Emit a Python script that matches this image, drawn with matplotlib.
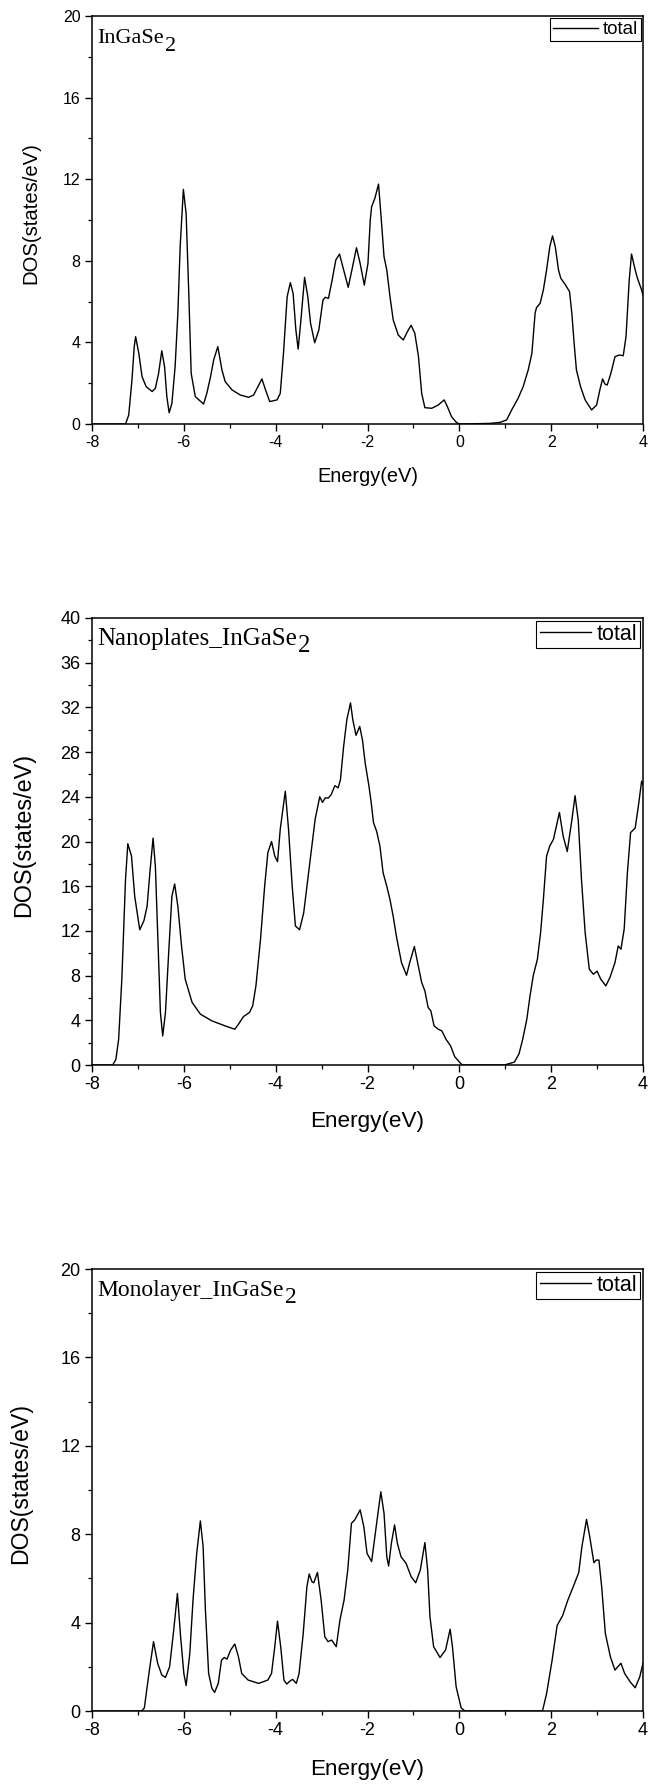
import matplotlib
matplotlib.use("Agg")
import matplotlib.pyplot as plt
from matplotlib.ticker import MultipleLocator

plt.rcParams["axes.unicode_minus"] = False

# ---------------- data ----------------
titles = ["InGaSe", "Nanoplates_InGaSe", "Monolayer_InGaSe"]
title_sub = "2"
legend_label = "total"
xlabel = "Energy(eV)"
ylabel = "DOS(states/eV)"
ylims = [20, 40, 20]

e1 = [-8.0, -7.27, -7.20, -7.13, -7.08, -7.05, -6.98, -6.91, -6.82, -6.69, -6.62, -6.55,
      -6.48, -6.42, -6.37, -6.32, -6.26, -6.19, -6.13, -6.08, -6.01, -5.95, -5.89, -5.84,
      -5.75, -5.57, -5.50, -5.42, -5.35, -5.26, -5.17, -5.10, -4.95, -4.77, -4.59, -4.48,
      -4.37, -4.30, -4.22, -4.13, -3.97, -3.90, -3.83, -3.75, -3.68, -3.62, -3.56, -3.51,
      -3.45, -3.37, -3.30, -3.24, -3.15, -3.06, -2.97, -2.92, -2.85, -2.77, -2.69, -2.61,
      -2.52, -2.42, -2.34, -2.24, -2.16, -2.07, -1.99, -1.94, -1.91, -1.84, -1.76, -1.71,
      -1.64, -1.58, -1.51, -1.44, -1.33, -1.22, -1.13, -1.05, -0.97, -0.89, -0.82, -0.75,
      -0.60, -0.46, -0.33, -0.26, -0.17, -0.06, 0.01, 0.67, 0.89, 1.03, 1.14, 1.28, 1.39,
      1.50, 1.58, 1.65, 1.68, 1.76, 1.83, 1.90, 1.97, 2.03, 2.09, 2.16, 2.21, 2.30, 2.40,
      2.45, 2.50, 2.55, 2.64, 2.74, 2.88, 2.99, 3.06, 3.12, 3.17, 3.22, 3.30, 3.39, 3.48,
      3.57, 3.63, 3.70, 3.75, 3.83, 3.88, 3.97, 4.0]
d1 = [0.0, 0.0, 0.44, 2.16, 3.79, 4.28, 3.46, 2.32, 1.83, 1.59, 1.75, 2.48,
      3.59, 2.81, 1.34, 0.55, 1.01, 2.81, 5.43, 8.69, 11.5, 10.3, 6.24, 2.48,
      1.34, 0.98, 1.5, 2.3, 3.14, 3.79, 2.65, 2.08, 1.67, 1.42, 1.31, 1.42,
      1.91, 2.21, 1.67, 1.10, 1.18, 1.5, 3.46, 6.24, 6.93, 6.4, 4.61, 3.67,
      5.1, 7.19, 6.24, 4.94, 3.98, 4.61, 6.08, 6.21, 6.16, 7.06, 8.04, 8.33,
      7.55, 6.7, 7.55, 8.64, 7.87, 6.81, 7.87, 10.0, 10.65, 11.06, 11.76, 10.33,
      8.2, 7.55, 6.24, 5.1, 4.36, 4.12, 4.53, 4.84, 4.45, 3.31, 1.5, 0.80,
      0.77, 0.93, 1.18, 0.85, 0.36, 0.07, 0.0, 0.03, 0.08, 0.2, 0.69, 1.26, 1.83,
      2.65, 3.46, 5.43, 5.7, 5.92, 6.57, 7.55, 8.69, 9.22, 8.69, 7.55, 7.14, 6.86, 6.49,
      5.43, 3.96, 2.65, 1.83, 1.18, 0.69, 0.93, 1.67, 2.21, 1.96, 1.91, 2.48, 3.3, 3.38,
      3.35, 4.28, 7.06, 8.33, 7.55, 7.14, 6.57, 6.3]

e2 = [-8.0, -7.55, -7.48, -7.42, -7.35, -7.27, -7.22, -7.14, -7.07, -6.96, -6.87, -6.80,
      -6.74, -6.67, -6.62, -6.56, -6.51, -6.46, -6.40, -6.33, -6.26, -6.20, -6.13, -6.05,
      -5.97, -5.82, -5.64, -5.39, -5.10, -4.89, -4.81, -4.70, -4.57, -4.50, -4.43, -4.33,
      -4.24, -4.17, -4.09, -4.02, -3.96, -3.90, -3.79, -3.72, -3.64, -3.57, -3.48, -3.39,
      -3.30, -3.21, -3.14, -3.04, -2.98, -2.92, -2.85, -2.79, -2.71, -2.64, -2.59, -2.52,
      -2.45, -2.37, -2.32, -2.25, -2.17, -2.11, -2.05, -1.97, -1.92, -1.87, -1.80, -1.73,
      -1.66, -1.58, -1.51, -1.44, -1.37, -1.26, -1.15, -1.08, -0.98, -0.91, -0.82, -0.75,
      -0.68, -0.62, -0.55, -0.46, -0.38, -0.29, -0.19, -0.10, 0.06, 0.98, 1.20, 1.30,
      1.38, 1.47, 1.54, 1.61, 1.70, 1.77, 1.83, 1.90, 1.97, 2.05, 2.18, 2.26, 2.35, 2.45,
      2.52, 2.59, 2.66, 2.74, 2.83, 2.92, 3.00, 3.08, 3.19, 3.28, 3.39, 3.46, 3.52, 3.59,
      3.66, 3.73, 3.83, 3.90, 3.97, 4.0]
d2 = [0.0, 0.0, 0.5, 2.3, 7.7, 16.6, 19.8, 18.7, 15.1, 12.1, 12.9, 14.2,
      17.2, 20.3, 17.8, 10.65, 4.7, 2.6, 4.7, 10.06, 15.1, 16.2, 14.2, 10.65,
      7.68, 5.6, 4.55, 3.95, 3.5, 3.2, 3.65, 4.34, 4.7, 5.3, 7.08, 11.25,
      16.0, 19.0, 20.0, 18.7, 18.2, 21.1, 24.5, 21.1, 16.0, 12.44, 12.1, 13.6,
      16.6, 19.6, 22.0, 24.0, 23.5, 23.9, 23.9, 24.2, 25.0, 24.8, 25.5, 28.5,
      30.9, 32.4, 30.9, 29.5, 30.3, 29.1, 27.0, 25.0, 23.5, 21.7, 20.9, 19.6,
      17.2, 16.0, 14.8, 13.3, 11.5, 9.17, 8.03, 9.17, 10.6, 9.17, 7.38, 6.63,
      5.15, 4.84, 3.5, 3.2, 3.05, 2.3, 1.71, 0.74, 0.0, 0.0, 0.26, 1.0,
      2.3, 4.1, 6.2, 8.0, 9.46, 11.85, 14.8, 18.7, 19.6, 20.2, 22.6, 20.5, 19.1, 21.9,
      24.1, 21.9, 16.6, 11.85, 8.57, 8.12, 8.4, 7.68, 7.08, 7.83, 9.17, 10.65, 10.36, 12.15,
      17.2, 20.8, 21.2, 23.2, 25.4, 25.1]

e3 = [-8.0, -6.92, -6.86, -6.76, -6.66, -6.57, -6.48, -6.40, -6.31, -6.22, -6.14, -6.07,
      -6.00, -5.95, -5.87, -5.80, -5.72, -5.64, -5.58, -5.53, -5.46, -5.39, -5.33, -5.25,
      -5.18, -5.12, -5.06, -4.98, -4.89, -4.81, -4.74, -4.60, -4.37, -4.17, -4.09, -4.02,
      -3.96, -3.89, -3.82, -3.76, -3.68, -3.63, -3.55, -3.49, -3.40, -3.32, -3.27, -3.21,
      -3.17, -3.09, -3.01, -2.93, -2.86, -2.78, -2.68, -2.60, -2.51, -2.43, -2.35, -2.28,
      -2.16, -2.08, -2.01, -1.91, -1.83, -1.71, -1.64, -1.58, -1.54, -1.48, -1.41, -1.35,
      -1.27, -1.16, -1.05, -0.95, -0.85, -0.75, -0.69, -0.64, -0.56, -0.42, -0.30, -0.20,
      -0.15, -0.07, 0.04, 0.12, 1.81, 1.90, 2.02, 2.13, 2.25, 2.36, 2.48, 2.60, 2.67,
      2.77, 2.84, 2.93, 2.98, 3.04, 3.10, 3.18, 3.29, 3.39, 3.45, 3.52, 3.60, 3.72, 3.83,
      3.93, 4.0]
d3 = [0.0, 0.0, 0.14, 1.7, 3.14, 2.16, 1.63, 1.52, 2.0, 3.67, 5.32, 3.36,
      1.7, 1.15, 2.6, 5.02, 7.13, 8.6, 7.44, 4.57, 1.7, 1.03, 0.84, 1.25,
      2.3, 2.42, 2.35, 2.76, 3.03, 2.45, 1.7, 1.4, 1.25, 1.4, 1.7, 2.9,
      4.07, 2.9, 1.4, 1.22, 1.37, 1.43, 1.25, 1.7, 3.51, 5.62, 6.2, 5.85,
      5.8, 6.27, 5.02, 3.36, 3.14, 3.21, 2.91, 4.12, 5.02, 6.38, 8.49, 8.64,
      9.1, 8.34, 7.13, 6.76, 8.04, 9.92, 8.94, 6.98, 6.56, 7.59, 8.42, 7.59,
      6.98, 6.68, 6.08, 5.8, 6.38, 7.62, 6.38, 4.27, 2.91, 2.42, 2.76, 3.7,
      2.91, 1.10, 0.14, 0.0, 0.0, 0.78, 2.29, 3.87, 4.32, 5.0, 5.62, 6.26, 7.44,
      8.67, 7.89, 6.71, 6.83, 6.83, 5.62, 3.51, 2.45, 1.85, 2.0, 2.16, 1.7, 1.32, 1.05,
      1.55, 2.16]

energies = [e1, e2, e3]
doses = [d1, d2, d3]

# ---------------- layout ----------------
W, H = 649, 1784
fig = plt.figure(figsize=(W / 100, H / 100), dpi=100)

panels_px = [(16, 424), (618, 1065), (1269, 1711)]   # (top, bottom) in pixels
left_px, right_px = 92, 643
tick_pt = [11.5, 13.0, 13.0]
xlab_pt = [14.4, 16.2, 16.2]
ylab_pt = [14.6, 16.8, 16.6]
xlab_off = [52, 57, 59]
ylab_x_px = [31, 24, 21]
title_pt = [16.0, 18.0, 17.0]
sub_drop = [7.5, 8.0, 7.5]
legend_pt = [13.5, 15.5, 15.5]

sans = ["Liberation Sans", "DejaVu Sans"]
serif = ["Liberation Serif", "DejaVu Serif"]

for i in range(3):
    top, bot = panels_px[i]
    hpx = bot - top
    wpx = right_px - left_px
    ax = fig.add_axes([left_px / W, 1 - bot / H, wpx / W, hpx / H])
    ax.plot(energies[i], doses[i], color="black", lw=1.0, label=legend_label,
            solid_joinstyle="round")
    ax.set_xlim(-8, 4)
    ax.set_ylim(0, ylims[i])
    ax.xaxis.set_major_locator(MultipleLocator(2))
    ax.xaxis.set_minor_locator(MultipleLocator(1))
    ax.yaxis.set_major_locator(MultipleLocator(4))
    ax.yaxis.set_minor_locator(MultipleLocator(2))
    ax.tick_params(which="major", direction="out", length=5.2, width=1.0, pad=3,
                   labelsize=tick_pt[i])
    ax.tick_params(which="minor", direction="out", length=2.6, width=0.9)
    ax.tick_params(top=False, right=False, which="both")
    for lab in ax.get_xticklabels() + ax.get_yticklabels():
        lab.set_family(sans)
    for sp in ax.spines.values():
        sp.set_linewidth(1.1)
        sp.set_color("black")

    ax.set_xlabel(xlabel, family=sans, fontsize=xlab_pt[i], va="center")
    ax.xaxis.set_label_coords(0.5, -xlab_off[i] / hpx)
    ax.set_ylabel(ylabel, family=sans, fontsize=ylab_pt[i], va="center")
    ax.yaxis.set_label_coords((ylab_x_px[i] - left_px) / wpx, 0.5 + 7 / hpx)

    leg = ax.legend(loc="upper right", frameon=True, fancybox=False, framealpha=1,
                    edgecolor="black", borderpad=0.15, handlelength=2.4,
                    handletextpad=0.25, borderaxespad=0.12,
                    prop={"family": sans, "size": legend_pt[i]})
    leg.get_frame().set_linewidth(0.8)

    t = ax.text(5 / wpx, 1 - 27 / hpx, titles[i], transform=ax.transAxes,
                ha="left", va="baseline", family=serif, fontsize=title_pt[i])
    # the subscript "2" is drawn almost full size and lowered, as in the original
    ax.annotate(title_sub, xy=(1, 0), xycoords=t,
                xytext=(1, -(sub_drop[i] - 0.22 * title_pt[i] * 100 / 72)),
                textcoords="offset pixels", ha="left", va="baseline",
                family=serif, fontsize=title_pt[i])

fig.savefig("out.png", dpi=100)
